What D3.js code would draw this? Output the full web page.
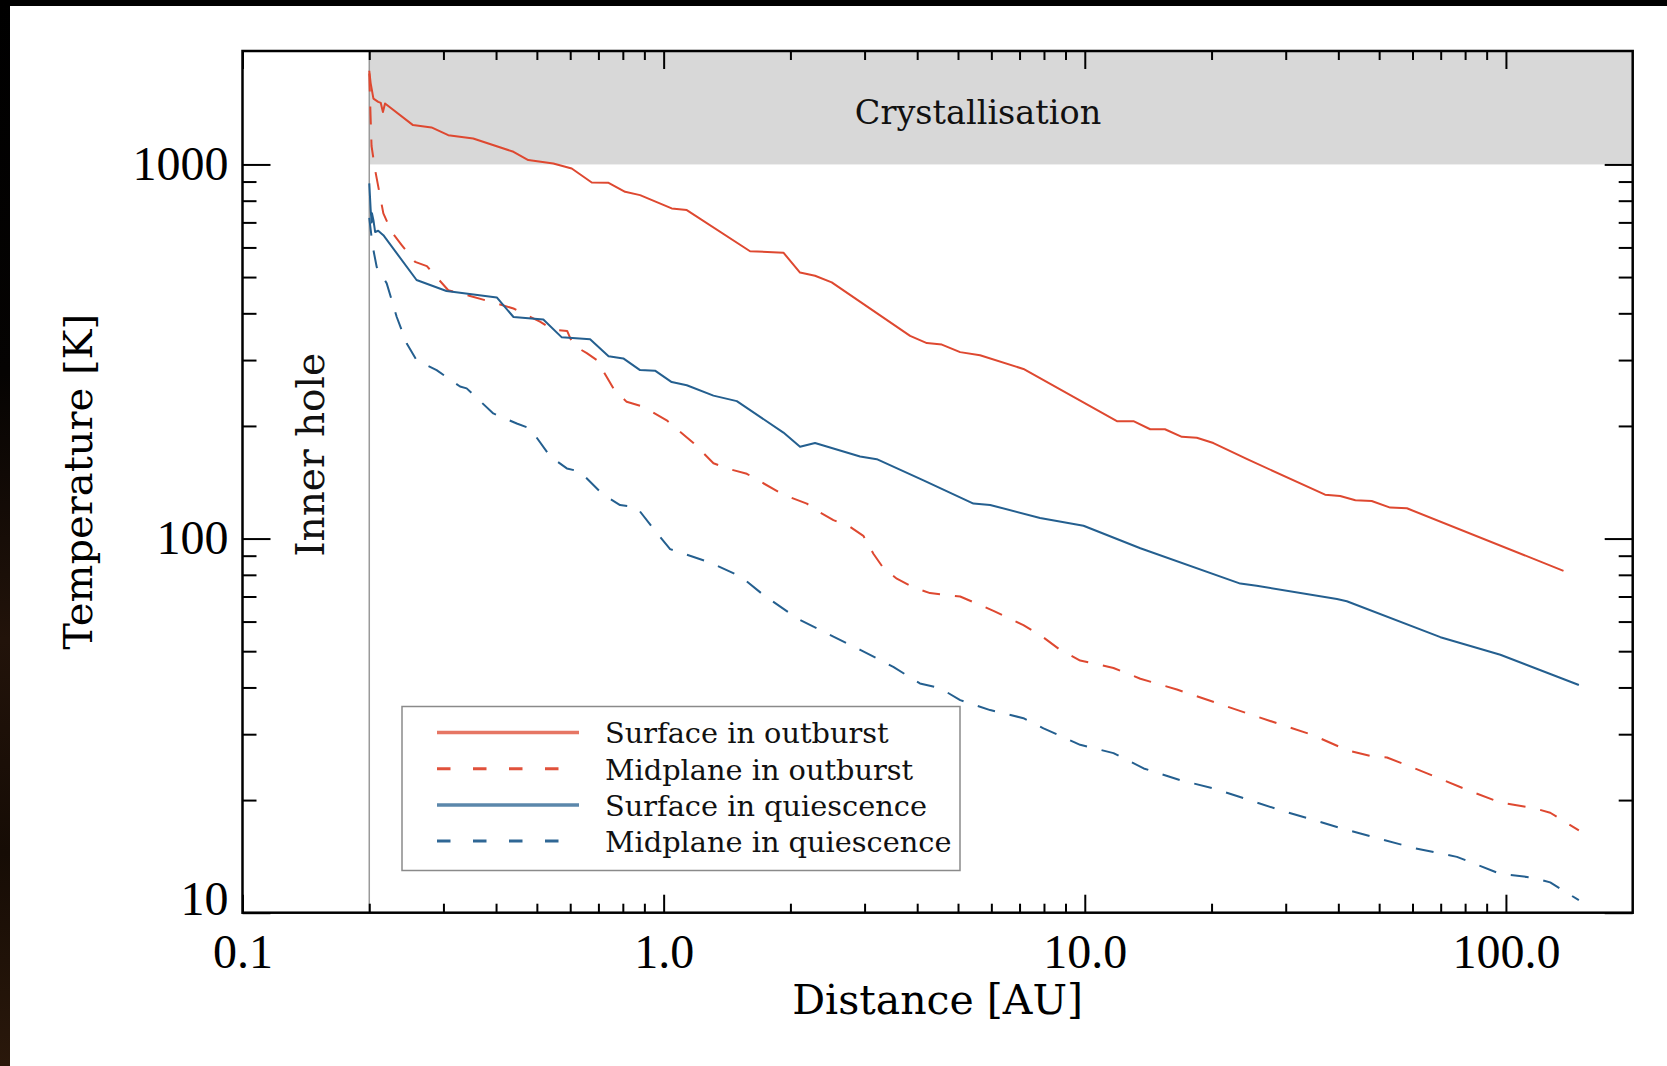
<!DOCTYPE html>
<html><head><meta charset="utf-8">
<script src="https://cdn.jsdelivr.net/npm/d3@7"></script>
<style>html,body{margin:0;padding:0;background:#fff;overflow:hidden}</style>
</head><body><svg id="c" width="1667" height="1066"></svg>
<script>
// ---------------- data ----------------
const xTickValues = [0.1, 1, 10, 100];
const yTickValues = [10, 100, 1000];
const xDomain = [0.1, 200];
const yDomain = [10, 2010];
const crystallisationT = 1000;
const innerHoleR = 0.2;
const seriesNames = ["Surface in outburst", "Midplane in outburst", "Surface in quiescence", "Midplane in quiescence"];

const surfaceOutburst = [[0.2,1780],[0.2015,1650],[0.2046,1500],[0.21,1470],[0.213,1460],[0.2155,1380],[0.218,1455],[0.254,1274],[0.281,1256],[0.308,1197],[0.353,1173],[0.44,1081],[0.477,1027],[0.547,1006],[0.605,975],[0.675,895],[0.74,893],[0.81,845],[0.879,828],[1.045,763],[1.135,755],[1.604,586],[1.925,581],[2.108,514],[2.288,504],[2.507,484],[3.848,348],[4.216,333],[4.577,330],[5.058,315],[5.64,309],[7.15,284],[11.92,206],[13.05,206],[14.3,196],[15.5,196],[17.0,187],[18.45,186],[20.2,180],[24.3,163],[37.2,131],[40.4,130],[43.9,126.6],[48.0,126],[53.1,121],[58.2,120.5],[137,82]];

const midplaneOutburst = [[0.2,1750],[0.2012,1400],[0.2025,1120],[0.2065,966],[0.216,740],[0.226,660],[0.2388,609],[0.257,549],[0.274,535],[0.308,461],[0.347,445],[0.402,425],[0.44,412],[0.5085,380],[0.547,361],[0.59,359],[0.61,329],[0.657,313],[0.694,300],[0.76,252],[0.817,232],[0.895,225],[1.017,207],[1.177,180],[1.313,159],[1.412,154],[1.576,149],[1.89,132.5],[1.96,130],[2.188,124],[2.31,118.7],[2.53,112],[2.77,107.5],[2.98,101.7],[3.148,91.1],[3.325,83.4],[3.578,78.1],[3.92,74],[4.29,71.5],[5.06,70],[6.07,64.1],[7.15,58.7],[7.98,54.4],[8.74,50.4],[9.75,47.2],[11.7,45.1],[13.55,42.2],[16.55,39.5],[24.3,34.1],[34.9,29.8],[41.9,27.2],[48.5,26.1],[52.2,26],[60.3,24.4],[80.8,21.3],[97,19.7],[116.3,19.05],[127.4,18.5],[149,16.6]];

const surfaceQuiescence = [[0.2,890],[0.2015,760],[0.2025,700],[0.203,740],[0.2046,710],[0.2065,660],[0.21,665],[0.216,647],[0.259,491],[0.305,459],[0.4016,441],[0.44,391],[0.518,385],[0.573,345],[0.669,341],[0.74,307],[0.802,303],[0.879,282],[0.954,281],[1.045,262],[1.135,257],[1.313,241],[1.492,233],[1.925,192],[2.108,176],[2.288,180],[2.927,165.7],[3.207,163],[4.14,143],[5.44,124],[5.96,123],[7.83,113.5],[9.93,108.2],[13.55,94.2],[23.4,75.8],[25.6,74.8],[39.7,68.9],[41.9,68],[69.9,54.5],[97,48.9],[149,40.6]];

const midplaneQuiescence = [[0.2,720],[0.2025,640],[0.2046,590],[0.2083,532],[0.22,481],[0.2324,391],[0.2455,332],[0.259,300],[0.289,282],[0.3285,255],[0.3406,252],[0.394,216],[0.448,203],[0.4817,197],[0.5374,166],[0.589,154],[0.633,151],[0.7063,133.5],[0.733,129.3],[0.788,122.9],[0.863,121.3],[0.945,106.3],[1.036,93.7],[1.291,86.2],[1.521,79.3],[1.725,70.7],[1.996,63.1],[2.108,60.6],[2.44,55.8],[2.93,50.4],[3.51,45.4],[4.06,41],[4.535,39.8],[5.06,37],[5.96,34.8],[7.15,33.1],[7.98,31.1],[9.75,28.1],[11.7,26.7],[13.8,24.3],[16.85,22.6],[20.2,21.5],[29.1,18.8],[41.9,16.65],[60.3,14.9],[76.5,14.1],[97,12.7],[116.3,12.4],[127.4,12.05],[149,10.8]];

// ---------------- layout / style ----------------
const W = 1667, H = 1066;
const L = 242.5, R = 1632.7, T = 51, B = 912.7;
const RED = "#de4830", BLUE = "#245f8f";
const WORD_FONT = "'DejaVu Serif', serif";
const NUM_FONT = "'Liberation Serif', 'Times New Roman', serif";

const svg = d3.select("#c");
const defs = svg.append("defs");
const grad = defs.append("linearGradient").attr("id","edge").attr("x1",0).attr("y1",0).attr("x2",0).attr("y2",1);
grad.append("stop").attr("offset","0%").attr("stop-color","#000");
grad.append("stop").attr("offset","35%").attr("stop-color","#050302");
grad.append("stop").attr("offset","60%").attr("stop-color","#22130a");
grad.append("stop").attr("offset","80%").attr("stop-color","#160c05");
grad.append("stop").attr("offset","100%").attr("stop-color","#2a180b");
defs.append("clipPath").attr("id","plotclip").append("rect").attr("x",L).attr("y",T).attr("width",R-L).attr("height",B-T);

svg.append("rect").attr("width",W).attr("height",H).attr("fill","#fff");

const x = d3.scaleLog().domain(xDomain).range([L, R]);
const y = d3.scaleLog().domain(yDomain).range([B, T]);

// crystallisation band
svg.append("rect")
  .attr("x", x(innerHoleR)).attr("y", y(yDomain[1]))
  .attr("width", x(xDomain[1]) - x(innerHoleR)).attr("height", y(crystallisationT) - y(yDomain[1]))
  .attr("fill", "#d8d8d8");
svg.append("text").attr("x", 978).attr("y", 124)
  .attr("text-anchor","middle").attr("font-family",WORD_FONT).attr("font-size",33.5).attr("fill","#111")
  .text("Crystallisation");

// inner hole boundary
svg.append("line").attr("x1", x(innerHoleR)).attr("x2", x(innerHoleR)).attr("y1", T).attr("y2", B)
  .attr("stroke","#9a9a9a").attr("stroke-width",1.5);
svg.append("text").attr("transform", `translate(324,${(T+B)/2 - 27}) rotate(-90)`)
  .attr("text-anchor","middle").attr("font-family",WORD_FONT).attr("font-size",39).attr("fill","#111")
  .text("Inner hole");

// series
const line = d3.line().x(d => x(d[0])).y(d => y(d[1]));
const series = [
  {data: surfaceOutburst, color: RED, dash: null},
  {data: midplaneOutburst, color: RED, dash: "18,15"},
  {data: surfaceQuiescence, color: BLUE, dash: null},
  {data: midplaneQuiescence, color: BLUE, dash: "18,15"}
];
const plotG = svg.append("g").attr("clip-path","url(#plotclip)");
series.forEach(s => {
  plotG.append("path").datum(s.data).attr("d", line)
    .attr("fill","none").attr("stroke", s.color).attr("stroke-width", 2)
    .attr("stroke-linejoin","round")
    .attr("stroke-dasharray", s.dash);
});

// legend
const lg = svg.append("g");
lg.append("rect").attr("x",402).attr("y",706.5).attr("width",558).attr("height",164)
  .attr("fill","#fff").attr("stroke","#8a8a8a").attr("stroke-width",1.5);
seriesNames.forEach((name, i) => {
  const yy = 732.5 + i*36.2;
  lg.append("line").attr("x1",437).attr("x2", series[i].dash ? 575 : 579).attr("y1",yy).attr("y2",yy)
    .attr("stroke", series[i].color).attr("stroke-width", series[i].dash ? 3 : 3.5)
    .attr("stroke-opacity", series[i].dash ? 0.95 : 0.75)
    .attr("stroke-dasharray", series[i].dash ? "13.5,22.5" : null);
  lg.append("text").attr("x",605).attr("y", yy + 10.8)
    .attr("font-family",WORD_FONT).attr("font-size",28.8).attr("fill","#111").text(name);
});

// axes (ticks inward on all four sides)
const minorX = [], minorY = [];
xTickValues.forEach(d => { for (let k = 2; k <= 9; k++) { const v = k*d; if (v < xDomain[1]) minorX.push(v); } });
yTickValues.forEach(d => { for (let k = 2; k <= 9; k++) { const v = k*d; if (v < 2000) minorY.push(v); } });

function styleAxis(g) {
  g.select(".domain").remove();
  g.selectAll(".tick line").attr("stroke","#000").attr("stroke-width",2);
  g.selectAll(".tick text").attr("fill","#000").attr("font-family",NUM_FONT).attr("font-size",48);
}
const fmtX = d3.format(".1f"), fmtY = d3.format("d");

svg.append("g").attr("transform",`translate(0,${B})`)
  .call(d3.axisBottom(x).tickValues(xTickValues).tickSize(-18).tickPadding(21).tickFormat(fmtX)).call(styleAxis);
svg.append("g").attr("transform",`translate(0,${B})`)
  .call(d3.axisBottom(x).tickValues(minorX).tickSize(-9).tickFormat("")).call(styleAxis);
svg.append("g").attr("transform",`translate(0,${T})`)
  .call(d3.axisTop(x).tickValues(xTickValues).tickSize(-18).tickFormat("")).call(styleAxis);
svg.append("g").attr("transform",`translate(0,${T})`)
  .call(d3.axisTop(x).tickValues(minorX).tickSize(-9).tickFormat("")).call(styleAxis);

const leftG = svg.append("g").attr("transform",`translate(${L},0)`)
  .call(d3.axisLeft(y).tickValues(yTickValues).tickSize(-28).tickPadding(14).tickFormat(fmtY)).call(styleAxis);
leftG.selectAll(".tick text").filter(d => d === yDomain[0]).attr("y", -14);
svg.append("g").attr("transform",`translate(${L},0)`)
  .call(d3.axisLeft(y).tickValues(minorY).tickSize(-14).tickFormat("")).call(styleAxis);
svg.append("g").attr("transform",`translate(${R},0)`)
  .call(d3.axisRight(y).tickValues(yTickValues).tickSize(-28).tickFormat("")).call(styleAxis);
svg.append("g").attr("transform",`translate(${R},0)`)
  .call(d3.axisRight(y).tickValues(minorY).tickSize(-14).tickFormat("")).call(styleAxis);

svg.append("rect").attr("x",L).attr("y",T).attr("width",R-L).attr("height",B-T)
  .attr("fill","none").attr("stroke","#000").attr("stroke-width",2.5);

// axis titles
svg.append("text").attr("x",(L+R)/2).attr("y",1014).attr("text-anchor","middle")
  .attr("font-family",WORD_FONT).attr("font-size",41).attr("fill","#000").text("Distance [AU]");
svg.append("text").attr("transform",`translate(92,${(T+B)/2}) rotate(-90)`).attr("text-anchor","middle")
  .attr("font-family",WORD_FONT).attr("font-size",40).attr("fill","#000").text("Temperature [K]");

// dark photo edges
svg.append("rect").attr("x",0).attr("y",0).attr("width",W).attr("height",6).attr("fill","#000");
svg.append("rect").attr("x",0).attr("y",0).attr("width",10).attr("height",H).attr("fill","url(#edge)");
</script>
</body></html>
